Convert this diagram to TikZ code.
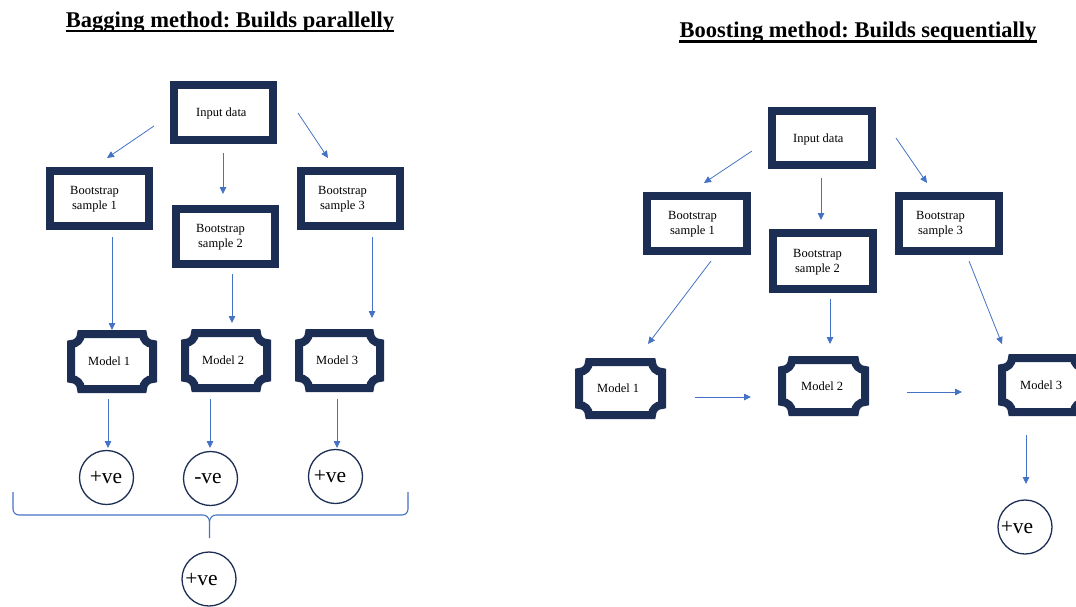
\documentclass[tikz,border=0pt]{standalone}
\usepackage{fontspec}
\setmainfont{Liberation Serif}
\usetikzlibrary{arrows.meta,calc}
\definecolor{navy}{HTML}{1C2E54}
\definecolor{arrowblue}{HTML}{4472C4}
\frenchspacing
\tikzset{
  boxline/.style={draw=navy,line width=8pt},
  shapebox/.style={draw=none,inner sep=0pt,outer sep=0pt},
  boxtext/.style={inner sep=0pt,align=center,font=\fontsize{12.5}{15}\selectfont},
  circnode/.style={circle,draw=navy,line width=1.3pt,minimum size=54pt,inner sep=0pt},
  circtext/.style={inner sep=0pt,font=\fontsize{21.5}{24}\selectfont},
  titletext/.style={inner sep=0pt,font=\fontsize{22.5}{26}\selectfont\bfseries},
  conn/.style={draw=arrowblue,line width=0.8pt,-{Triangle[length=7pt,width=6.5pt]}},
  bracket/.style={draw=arrowblue,line width=1.1pt},
}
% rectangular box: name, x0, y0, x1, y1, text offset, text
\newcommand\rectbox[7]{%
  \node[shapebox,boxline,minimum width={#4-#2-8},minimum height={#5-#3-8}] (#1) at ({(#2+#4)/2},{-(#3+#5)/2}) {};
  \node[boxtext,anchor=west] (#1t) at ({#2+#6},{-(#3+#5)/2-1}) {#7};
}
% plaque box (concave corners)
\newcommand\plaquebox[7]{%
  \node[shapebox,minimum width={#4-#2-8},minimum height={#5-#3-8}] (#1) at ({(#2+#4)/2},{-(#3+#5)/2}) {};
  \draw[navy,line width=8pt]
    ($(#1.north west)+(10,0)$) -- ($(#1.north east)+(-10,0)$)
    arc[start angle=180,end angle=270,radius=10]
    -- ($(#1.south east)+(0,10)$)
    arc[start angle=90,end angle=180,radius=10]
    -- ($(#1.south west)+(10,0)$)
    arc[start angle=0,end angle=90,radius=10]
    -- ($(#1.north west)+(0,-10)$)
    arc[start angle=270,end angle=360,radius=10] -- cycle;
  \node[boxtext,anchor=west] (#1t) at ({#2+#6},{-(#3+#5)/2}) {#7};
}
\newcommand\arr[5]{%
  \coordinate (#1s) at (#2,-#3);
  \coordinate (#1e) at (#4,-#5);
  \draw[conn] (#1s) -- (#1e);
}
\begin{document}
\begin{tikzpicture}[x=1pt,y=1pt]
\useasboundingbox (0,0) rectangle (1076,-606);
\clip (0,0) rectangle (1076,-606);

% ---------- Bagging ----------
\node[titletext,anchor=base] (t1) at (230,-27) {Bagging method: Builds parallelly};
\draw[line width=2.2pt] ($(t1.base west)+(0,-4)$) -- ($(t1.base east)+(0,-4)$);

\rectbox{inL}{170}{81}{277}{144}{26}{Input data}
\rectbox{bsAL}{46}{167}{153}{230}{24}{Bootstrap\\sample 1}
\rectbox{bsBL}{172}{205}{279}{268}{24}{Bootstrap\\sample 2}
\rectbox{bsCL}{297}{167}{404}{230}{21}{Bootstrap\\sample 3}

\plaquebox{mAL}{67}{330}{157}{393}{21}{Model 1}
\plaquebox{mBL}{181}{329}{271}{392}{21}{Model 2}
\plaquebox{mCL}{295}{329}{384}{392}{21}{Model 3}

\node[circnode] (cAL) at (106.5,-477.5) {};
\node[circtext] (cALt) at (106,-478) {+ve};
\node[circnode] (cBL) at (210.5,-478.5) {};
\node[circtext] (cBLt) at (208,-479) {-ve};
\node[circnode] (cCL) at (335.5,-476.5) {};
\node[circtext] (cCLt) at (330,-477) {+ve};
\node[circnode] (cDL) at (209,-579) {};
\node[circtext] (cDLt) at (201.5,-580) {+ve};

\arr{aA}{154}{126}{107}{158}
\arr{aB}{223}{153}{223}{194}
\arr{aC}{298}{113}{328}{158}
\arr{aD}{112}{237}{112}{330}
\arr{aE}{232}{274}{232}{323}
\arr{aF}{372}{237}{372}{318}
\arr{aG}{108}{399}{108}{448}
\arr{aH}{210}{399}{210}{448}
\arr{aI}{337}{399}{337}{448}

% brace
\coordinate (brL) at (13,-492);
\coordinate (brR) at (408,-492);
\coordinate (brM) at (209.5,-522);
\coordinate (brT) at (209.5,-538);
\draw[bracket] (brL) -- (13,-509) to[out=-90,in=180] (19,-515) -- (203,-515)
  to[out=0,in=90] (brM) -- (brT);
\draw[bracket] (brM) to[out=90,in=180] (216,-515) -- (402,-515)
  to[out=0,in=-90] (408,-509) -- (brR);

% ---------- Boosting ----------
\node[titletext,anchor=base] (t2) at (858,-37.5) {Boosting method: Builds sequentially};
\draw[line width=2.2pt] ($(t2.base west)+(0,-4)$) -- ($(t2.base east)+(0,-4)$);

\rectbox{inR}{768}{107}{876}{169}{25}{Input data}
\rectbox{bsAR}{643}{192}{751}{255}{25}{Bootstrap\\sample 1}
\rectbox{bsBR}{769}{229}{877}{293}{24}{Bootstrap\\sample 2}
\rectbox{bsCR}{895}{192}{1003}{255}{21}{Bootstrap\\sample 3}

\plaquebox{mAR}{575}{358}{666}{419}{22}{Model 1}
\plaquebox{mBR}{778}{356}{869}{416}{23}{Model 2}
\plaquebox{mCR}{998}{354}{1088}{416}{22}{Model 3}

\node[circnode] (cR) at (1025,-527) {};
\node[circtext] (cRt) at (1017,-528) {+ve};

\arr{bA}{752}{151}{704}{183}
\arr{bB}{821}{178}{821}{220}
\arr{bC}{896}{138}{927}{183}
\arr{bD}{711}{261}{648}{344}
\arr{bE}{830}{299}{830}{344}
\arr{bF}{969}{261}{1002}{344}
\arr{bG}{695}{397}{751}{397}
\arr{bH}{907}{392}{962}{392}
\arr{bI}{1026}{435}{1026}{484}
\end{tikzpicture}
\end{document}
